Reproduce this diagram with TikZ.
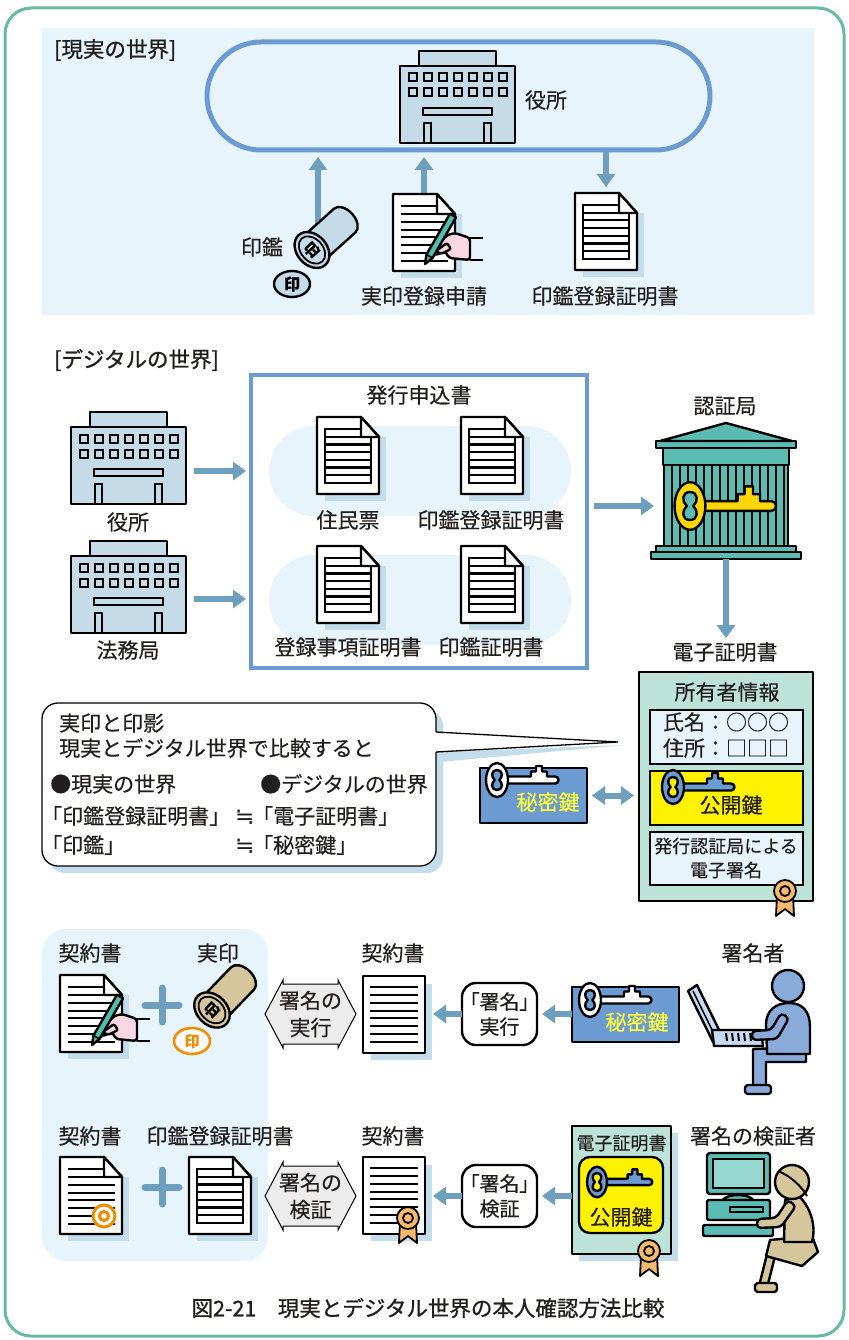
\documentclass[tikz,border=0pt]{standalone}
\usepackage{fontspec}
\setmainfont{Noto Sans CJK JP}[FakeBold=0.35]
\newfontfamily\jpp[RawFeature=+palt, FakeBold=0.35]{Noto Sans CJK JP}
\newfontfamily\jpm[FakeBold=1.1]{Noto Sans CJK JP}
\newfontfamily\symf{DejaVu Sans}
\usetikzlibrary{arrows.meta,shapes.misc,calc}

\definecolor{frameC}{RGB}{105,185,165}
\definecolor{bgC}{RGB}{232,244,252}
\definecolor{lineC}{RGB}{108,155,210}
\definecolor{arrC}{RGB}{110,159,190}
\definecolor{shadC}{RGB}{197,220,234}
\definecolor{bldC}{RGB}{197,219,232}
\definecolor{tealC}{RGB}{92,188,180}
\definecolor{tealL}{RGB}{150,215,208}
\definecolor{certC}{RGB}{189,226,215}
\definecolor{yelC}{RGB}{255,242,0}
\definecolor{keyY}{RGB}{255,214,0}
\definecolor{secC}{RGB}{108,155,210}
\definecolor{keytxt}{RGB}{255,255,60}
\definecolor{orangeC}{RGB}{240,140,0}
\definecolor{rosC}{RGB}{247,185,110}
\definecolor{tanC}{RGB}{213,198,156}
\definecolor{pinkC}{RGB}{249,216,228}
\definecolor{penC}{RGB}{78,190,175}
\definecolor{personC}{RGB}{138,170,218}
\definecolor{lapC}{RGB}{200,218,240}
\definecolor{hexC}{RGB}{236,236,236}
\definecolor{txtC}{RGB}{35,30,30}

\tikzset{
  ink/.style={draw=black, line width=2.4pt, line join=round},
  hold/.style={inner sep=0pt, outer sep=0pt},
  lbl/.style={font=\fontsize{21}{25}\selectfont, text=txtC, inner sep=0pt},
  small/.style={font=\fontsize{18}{22}\selectfont, text=txtC, inner sep=0pt},
  heading/.style={font=\jpm\fontsize{21.5}{25}\selectfont, text=txtC, inner sep=0pt},
  approx/.style={font=\symf\fontsize{23}{25}\selectfont, text=txtC, inner sep=0pt},
  arr/.style={draw=arrC, line width=6pt, -{Triangle[width=18pt,length=13pt]}},
  darr/.style={draw=arrC, line width=6pt, {Triangle[width=18pt,length=13pt]}-{Triangle[width=18pt,length=13pt]}},
  plussign/.style={draw=arrC, line width=7pt, line cap=round},
  % office building, origin at top-left of the body
  building/.pic={
    \draw[ink, fill=bldC] (19,-15) rectangle (96,0);
    \draw[ink, fill=bldC] (0,0) rectangle (115,77);
    \foreach \i in {0,...,6} {
      \draw[black, line width=2pt] (8.5+\i*15,7.5) rectangle +(8,8);
      \draw[black, line width=2pt] (8.5+\i*15,22.5) rectangle +(8,8);
    }
    \draw[black, line width=2pt] (23,42) rectangle (92,49);
    \draw[black, line width=2pt] (24,57) rectangle (31,77);
    \draw[black, line width=2pt] (84,57) rectangle (91,77);
  },
  % form document with a table, origin at top-left
  formdoc/.pic={
    \fill[shadC] (8,20) rectangle (69,84);
    \draw[ink, fill=white] (0,0) -- (44,0) -- (62,20) -- (62,77) -- (0,77) -- cycle;
    \draw[black, line width=2.2pt] (8,12) rectangle (54,66);
    \foreach \y in {19.7,27.4,35.1,42.8,50.5,58.2} \draw[black, line width=2.2pt] (8,\y) -- (54,\y);
    \draw[ink, fill=white] (44,0) -- (44,20) -- (62,20) -- cycle;
  },
  % plain lined sheet
  linedoc/.pic={
    \fill[shadC] (8,8) rectangle (69,84);
    \draw[ink, fill=white] (0,0) rectangle (62,77);
    \foreach \y in {11,19,27,35,42,50,58,66} \draw[black, line width=2.4pt] (7,\y) -- (55,\y);
  },
  % lined sheet with a folded corner
  folddoc/.pic={
    \fill[shadC] (8,20) rectangle (69,84);
    \draw[ink, fill=white] (0,0) -- (44,0) -- (62,20) -- (62,77) -- (0,77) -- cycle;
    \foreach \y in {12,20,28,36,43,51,59,67} \draw[black, line width=2.4pt] (8,\y) -- (55,\y);
    \draw[ink, fill=white] (44,0) -- (44,20) -- (62,20) -- cycle;
  },
  % award ribbon
  rosette/.pic={
    \draw[black, line width=1.8pt, line join=round, fill=rosC] (-8,4) -- (-9,25) -- (0,18) -- (9,25) -- (8,4) -- cycle;
    \draw[black, line width=1.8pt, fill=rosC] (0,0) circle (11);
    \draw[black, line width=1.8pt] (0,0) circle (5);
  },
  % double-headed signing arrow
  dblhex/.pic={
    \draw[black, line width=1pt, fill=hexC] (-45.5,0) -- (-27.5,-34) -- (-27.5,-30) -- (27.5,-30) -- (27.5,-34)
      -- (45.5,0) -- (27.5,34) -- (27.5,30) -- (-27.5,30) -- (-27.5,34) -- cycle;
  }
}

% key: x, y, rotation, scale, key colour, hole colour
\newcommand\keyglyph[6]{%
  \begin{scope}[shift={(#1,#2)}, rotate=#3, scale=#4]
    \draw[ink, fill=#5] (8,-3.5) -- (34,-3.5) -- (34,-8.5) -- (39,-8.5) -- (39,-14) -- (45,-14) -- (45,-8.5)
      -- (50,-8.5) -- (50,-3.5) -- (58,-3.5) arc[start angle=-90, end angle=90, radius=3.5] -- (8,3.5) -- cycle;
    \draw[ink, fill=#5] (0,0) ellipse [x radius=11, y radius=17];
    \draw[ink, fill=#6] (0,-10) .. controls (6,-10) and (6,-3) .. (2.3,0) .. controls (6,3) and (6,10) .. (0,10)
      .. controls (-6,10) and (-6,3) .. (-2.3,0) .. controls (-6,-3) and (-6,-10) .. (0,-10) -- cycle;
  \end{scope}}

% seal stamp: face centre x, y, axis angle, colour
\newcommand\stampicon[4]{%
  \begin{scope}[shift={(#1,#2)}, rotate=#3]
    \draw[ink, fill=#4] (0,-16) -- (44,-16) arc[start angle=-90, end angle=90, x radius=10, y radius=16] -- (0,16) -- cycle;
    \draw[ink, fill=#4] (0,0) ellipse [x radius=15, y radius=20];
    \draw[black, line width=1.8pt] (0,0) ellipse [x radius=11, y radius=15.5];
    \node[font=\bfseries\fontsize{15}{15}\selectfont, rotate=#3-90, xscale=-1, inner sep=0pt] at (0,0) {印};
  \end{scope}}

% writing hand with pen, relative to the sheet's top-left corner
\newcommand\handpen[2]{%
  \begin{scope}[shift={(#1,#2)}]
    \draw[ink, fill=pinkC, rounded corners=3pt] (77,44) -- (62,39) -- (54,41) -- (44,52) -- (38,60) -- (44,61)
      -- (52,57) -- (56,64) -- (77,66) -- cycle;
    \begin{scope}[shift={(32,70)}, rotate=60]
      \draw[ink, fill=penC] (0,0) -- (9,3.5) -- (56,3.5) -- (56,-3.5) -- (9,-3.5) -- cycle;
      \draw[black, line width=1.6pt] (9,3.5) -- (9,-3.5);
    \end{scope}
    \draw[ink, fill=pinkC, rounded corners=2pt] (54,49) -- (43,57) -- (48,60) -- (58,55) -- cycle;
    \draw[ink] (90,44) -- (77,44) -- (77,66) -- (90,66);
  \end{scope}}

\begin{document}
\begin{tikzpicture}[x=1pt,y=-1pt]
\useasboundingbox (0,0) rectangle (848,1340);
\draw[frameC, line width=3pt, rounded corners=26pt] (5,8) rectangle (844,1336);

% ---------------- real world ----------------
\fill[bgC] (42,28) rectangle (814,315);
\node[heading, anchor=west] (realTitle) at (54,50) {[現実の世界]};
\node[rounded rectangle, draw=lineC, line width=5pt, fill=bgC, minimum width=503pt, minimum height=108pt, hold] (office) at (458.5,96) {};
\pic at (400,66) {building};
\node[lbl] (officeLbl) at (546,100) {役所};

\node[hold, minimum width=62pt, minimum height=77pt] (applyDoc) at (424,232.5) {};
\node[hold, minimum width=62pt, minimum height=77pt] (regDoc) at (606,231.5) {};
\coordinate (sealStem) at (318,226);
\draw[arr, shorten >=7pt] (sealStem) -- (sealStem |- office.south);
\draw[arr, shorten >=7pt] (applyDoc.north) -- (applyDoc.north |- office.south);
\draw[arr, shorten <=2pt, shorten >=6pt] (regDoc.north |- office.south) -- (regDoc.north);

\pic at (393,194) {folddoc};
\handpen{393}{194}
\pic at (575,193) {formdoc};
\stampicon{312}{250}{42}{bldC}
\draw[ink, fill=bldC] (292,284) ellipse [x radius=18, y radius=13];
\node[font=\bfseries\fontsize{16}{16}\selectfont, hold] (imprint) at (292,284) {印};
\node[lbl] (sealLbl) at (262,247) {印鑑};
\node[lbl] (applyLbl) at (424,296) {実印登録申請};
\node[lbl] (regLbl) at (605,296) {印鑑登録証明書};

% ---------------- digital world ----------------
\node[heading, anchor=west] (digTitle) at (54,360) {[デジタルの世界]};
\pic at (71,427) {building};
\pic at (71,556) {building};
\node[lbl] (cityLbl) at (128,522) {役所};
\node[lbl] (bureauLbl) at (128,650) {法務局};

\node[draw=lineC, line width=4pt, fill=white, minimum width=336pt, minimum height=293pt, hold] (appBox) at (419,521.5) {};
\node[rounded rectangle, fill=bgC, minimum width=302pt, minimum height=90pt, hold] (band1) at (420,471) {};
\node[rounded rectangle, fill=bgC, minimum width=302pt, minimum height=90pt, hold] (band2) at (420,600) {};
\node[lbl] (appLbl) at (419,395) {発行申込書};
\pic at (317,417) {formdoc};
\pic at (461,417) {formdoc};
\pic at (317,546) {formdoc};
\pic at (461,546) {formdoc};
\node[lbl] (resLbl) at (348,520) {住民票};
\node[lbl] (regLbl2) at (491,520) {印鑑登録証明書};
\node[lbl] (corpLbl) at (348,647) {登録事項証明書};
\node[lbl] (sealCertLbl) at (491,647) {印鑑証明書};

\coordinate (cityOut) at (194,471);
\coordinate (bureauOut) at (194,599);
\draw[arr, shorten >=5pt] (cityOut) -- (cityOut -| appBox.west);
\draw[arr, shorten >=5pt] (bureauOut) -- (bureauOut -| appBox.west);

% certificate authority
\node[lbl] (caLbl) at (725,406) {認証局};
\draw[ink, fill=tealC] (651,552) rectangle (801,559);
\draw[ink, fill=tealC] (656,546) rectangle (796,552);
\draw[ink, fill=tealC] (664,465) rectangle (788,546);
\foreach \x in {672,680,...,784} \draw[black, line width=1.6pt] (\x,465) -- (\x,546);
\draw[ink, fill=tealC] (663,448) rectangle (789,465);
\draw[ink, fill=tealC] (656,441) rectangle (796,448);
\draw[ink, fill=tealC] (660,441) -- (726,423) -- (792,441) -- cycle;
\keyglyph{690}{506}{0}{1.4}{keyY}{tealC}
\node[hold, minimum width=150pt, minimum height=136pt] (ca) at (726,491) {};
\coordinate (caIn) at (654,506);
\draw[arr, shorten <=7pt] (caIn -| appBox.east) -- (caIn);

\node[lbl] (certLbl) at (725,652) {電子証明書};
\draw[arr, shorten >=4pt] (ca.south) -- (ca.south |- certLbl.north);

% digital certificate
\node[ink, fill=certC, minimum width=174pt, minimum height=229pt, hold] (certM) at (726,786.5) {};
\node[lbl] (ownerLbl) at (727,692) {所有者情報};
\node[draw=black, line width=2pt, fill=bgC, minimum width=153pt, minimum height=54pt, hold] (ownerBox) at (726.5,737) {};
\node[lbl] (nameLbl) at (726,722) {氏名：○○○};
\node[lbl] (addrLbl) at (726,748) {住所：□□□};
\node[draw=black, line width=2pt, fill=yelC, minimum width=153pt, minimum height=54pt, hold] (pubBox) at (726.5,798) {};
\keyglyph{673}{787}{0}{1}{secC}{yelC}
\node[lbl] (pubLbl) at (731,805) {公開鍵};
\node[draw=black, line width=2pt, fill=bgC, minimum width=153pt, minimum height=53pt, hold] (sigBox) at (726.5,858.5) {};
\node[small] (sigLbl1) at (726,846) {発行認証局による};
\node[small] (sigLbl2) at (726,870) {電子署名};
\pic at (785,891) {rosette};

% secret key
\node[ink, fill=secC, minimum width=107pt, minimum height=55pt, hold] (keyM) at (533.5,795.5) {};
\keyglyph{497}{780}{0}{1}{white}{secC}
\node[lbl, text=keytxt] (keyMLbl) at (548,802) {秘密鍵};
\draw[darr, shorten <=5pt, shorten >=5pt] (keyM.east) -- (keyM.east -| certM.west);

% comparison note
\fill[shadC, rounded corners=16pt] (49,710) rectangle (443,873);
\fill[shadC] (440,752) -- (624,745) -- (440,762) -- cycle;
\node[draw=black, line width=1.3pt, fill=white, rounded corners=16pt, minimum width=394pt, minimum height=163pt, hold] (note) at (239,784.5) {};
\fill[white] (434,732) -- (618,742) -- (434,752) -- cycle;
\draw[black, line width=1.3pt] (436,732) -- (618,742) -- (436,752);
\node[lbl, anchor=west] (noteA) at (59,723) {実印と印影};
\node[lbl, anchor=west] (noteB) at (59,748) {現実とデジタル世界で比較すると};
\node[lbl, anchor=west] (noteC) at (50,784) {●現実の世界};
\node[lbl, anchor=west] (noteD) at (260,784) {●デジタルの世界};
\node[lbl, anchor=west] (noteE) at (41,816) {「印鑑登録証明書」};
\node[approx, anchor=west] (noteF) at (235,817) {≒};
\node[lbl, anchor=west] (noteG) at (252,816) {「電子証明書」};
\node[lbl, anchor=west] (noteH) at (41,845) {「印鑑」};
\node[approx, anchor=west] (noteI) at (235,846) {≒};
\node[lbl, anchor=west] (noteJ) at (252,845) {「秘密鍵」};

% ---------------- signing ----------------
\fill[bgC, rounded corners=24pt] (42,929) rectangle (268,1261);
\node[lbl] (cA) at (90,953) {契約書};
\node[lbl] (stampLbl) at (218,953) {実印};
\node[lbl] (cB) at (393,953) {契約書};
\node[lbl] (signerLbl) at (753,953) {署名者};
\pic at (60,975) {folddoc};
\handpen{60}{975}
\draw[plussign] (145,1005) -- (179,1005) (162,988) -- (162,1022);
\stampicon{212}{1010}{46}{tanC}
\draw[orangeC, line width=2.6pt, fill=white] (192,1041) ellipse [x radius=18, y radius=13];
\node[font=\bfseries\fontsize{15}{15}\selectfont, text=orangeC, hold] (imprintB) at (192,1041) {印};
\pic at (310.5,1014) {dblhex};
\node[lbl, align=center, font=\fontsize{21}{27}\selectfont] (exec) at (310.5,1014) {署名の\\実行};
\pic at (363,976) {linedoc};
\node[hold, minimum width=69pt, minimum height=84pt] (docR1) at (397.5,1018) {};
\node[ink, fill=white, rounded corners=14pt, minimum width=75pt, minimum height=62pt, hold, align=center, font=\fontsize{20}{25}\selectfont, text=txtC] (signBox) at (499.5,1014) {{\jpp「署名」}\\実行};
\node[ink, fill=secC, minimum width=107pt, minimum height=55pt, hold] (keyB) at (625.5,1014.5) {};
\keyglyph{590}{1000}{0}{1}{white}{secC}
\node[lbl, text=keytxt] (keyBLbl) at (637,1022) {秘密鍵};
\draw[arr, shorten >=1pt] (signBox.west) -- (signBox.west -| docR1.east);
\draw[arr, shorten >=5pt] (keyB.west |- signBox.east) -- (signBox.east);

% signer at a laptop
\draw[ink, fill=lapC] (688,991) -- (697,985) -- (722,1036) -- (713,1042) -- cycle;
\draw[black, line width=1.5pt] (693,991) -- (716,1038);
\draw[ink, fill=lapC] (712,1030) -- (761,1030) -- (763,1046) -- (714,1046) -- cycle;
\foreach \x in {726,732,738,744,750} \draw[black, line width=2pt] (\x,1033) -- (\x+1,1041);
\draw[ink, fill=personC] (806,1047) -- (806,1062) -- (766,1062) -- (766,1088) -- (753,1088) -- (753,1049) -- cycle;
\draw[ink, fill=personC, rounded corners=3pt] (745,1085) rectangle (771,1094);
\draw[ink, fill=personC] (767,1052) -- (766,1025) .. controls (766,1010) and (776,1003) .. (789,1003)
  .. controls (803,1003) and (810,1012) .. (810,1027) -- (810,1054) -- (767,1054) -- cycle;
\draw[ink, fill=personC, rounded corners=4pt] (789,1018) -- (777,1039) -- (752,1040) -- (752,1031) -- (771,1030) -- (781,1013) -- cycle;
\draw[ink, fill=personC] (788,986) circle (16);
\node[hold, minimum width=125pt, minimum height=115pt] (signer) at (750,1035) {};

% ---------------- verification ----------------
\node[lbl] (cC) at (90,1136) {契約書};
\node[lbl] (regLbl3) at (220,1136) {印鑑登録証明書};
\node[lbl] (cD) at (393,1136) {契約書};
\node[lbl] (verLbl) at (753,1136) {署名の検証者};
\pic at (60,1157) {folddoc};
\draw[orangeC, line width=3pt, fill=white] (104,1216) circle (11);
\draw[orangeC, line width=3pt] (104,1216) circle (4.5);
\draw[plussign] (145,1187) -- (179,1187) (162,1170) -- (162,1204);
\pic at (189,1157) {formdoc};
\pic at (310.5,1196) {dblhex};
\node[lbl, align=center, font=\fontsize{21}{27}\selectfont] (verify) at (310.5,1196) {署名の\\検証};
\pic at (363,1157) {linedoc};
\pic at (408,1218) {rosette};
\node[hold, minimum width=69pt, minimum height=84pt] (docR2) at (397.5,1199) {};
\node[ink, fill=white, rounded corners=14pt, minimum width=75pt, minimum height=62pt, hold, align=center, font=\fontsize{20}{25}\selectfont, text=txtC] (verifyBox) at (499.5,1196) {{\jpp「署名」}\\検証};

% certificate used for verification
\fill[shadC] (579,1133) rectangle (678,1261);
\node[ink, fill=certC, minimum width=99pt, minimum height=128pt, hold] (certB) at (621.5,1190) {};
\node[small, text=txtC] (certBLbl) at (621.5,1143) {電子証明書};
\node[ink, fill=yelC, rounded corners=11pt, minimum width=84pt, minimum height=76pt, hold] (pubB) at (621,1195) {};
\keyglyph{597}{1182}{0}{0.9}{secC}{yelC}
\node[lbl] (pubBLbl) at (621,1217) {公開鍵};
\pic at (649,1251) {rosette};
\draw[arr, shorten >=1pt] (verifyBox.west) -- (verifyBox.west -| docR2.east);
\draw[arr, shorten >=5pt] (certB.west |- verifyBox.east) -- (verifyBox.east);

% verifier at a desktop computer
\draw[ink, fill=tealC, rounded corners=3pt] (707,1153) rectangle (770,1194);
\draw[black, line width=2pt, fill=tealL] (713,1159) rectangle (764,1188);
\draw[ink, fill=tealC] (722,1201) .. controls (726,1193) and (750,1193) .. (754,1201);
\draw[ink, fill=tealC, rounded corners=2pt] (707,1200) rectangle (770,1220);
\draw[black, line width=2pt] (730,1207) rectangle (763,1212);
\draw[ink, fill=tealC, rounded corners=2pt] (703,1225) rectangle (773,1236);
\draw[ink, fill=tanC] (768,1250) -- (776,1252) -- (767,1288) -- (759,1286) -- cycle;
\draw[ink, fill=tanC, rounded corners=3pt] (755,1283) rectangle (777,1292);
\draw[ink, fill=tanC] (770,1240) -- (812,1236) -- (818,1252) -- (802,1266) -- (766,1256) -- cycle;
\draw[ink, fill=tanC] (785,1200) -- (800,1197) .. controls (812,1210) and (816,1228) .. (812,1242) -- (784,1242) -- cycle;
\draw[ink, fill=tanC, rounded corners=4pt] (796,1206) -- (781,1227) -- (757,1228) -- (757,1219) -- (776,1218) -- (788,1200) -- cycle;
\draw[ink, fill=tanC] (792,1182) circle (17);
\draw[black, line width=2pt] (778,1171) .. controls (791,1176) and (802,1187) .. (807,1196);
\node[hold, minimum width=120pt, minimum height=140pt] (verifier) at (758,1222) {};

% caption
\node[heading] (caption) at (428,1308) {図2-21　現実とデジタル世界の本人確認方法比較};
\end{tikzpicture}
\end{document}
